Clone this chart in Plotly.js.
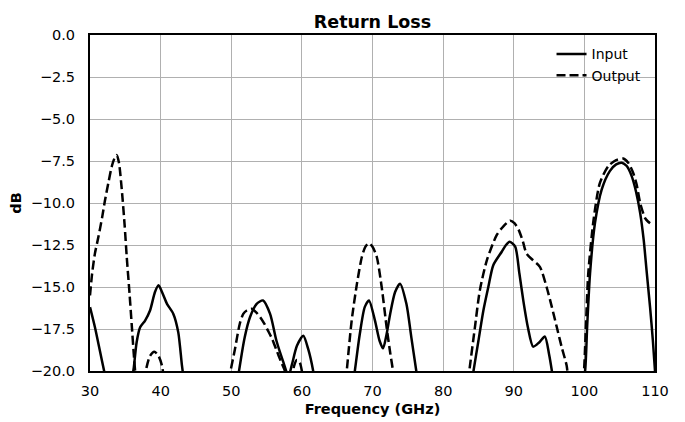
<!DOCTYPE html>
<html>
<head>
<meta charset="utf-8">
<script src="https://cdn.plot.ly/plotly-3.0.1.min.js"></script>
<style>
  html, body { margin: 0; padding: 0; background: #fff; }
  #chart { width: 685px; height: 422px; }
</style>
</head>
<body>
<div id="chart"></div>
<script>
// Input return loss (dB); null separates segments that dip below the -20 dB axis floor
const freqIn = [
  30, 30.7, 31.4, 32.0, 32.3, null,
  35.9, 36.2, 36.6, 37.1, 37.8, 38.5, 39.2, 39.7, 40.3, 40.9, 41.8, 42.5, 43.0, 43.3, null,
  50.9, 51.1, 51.9, 52.65, 53.6, 54.5, 55.5, 56.4, 57.4, 58.1, 58.6, 59.3, 60.2, 60.9, 61.6, 61.8, null,
  67.3, 67.5, 68.2, 68.9, 69.5, 70.35, 71.0, 71.5, 72.0, 72.5, 73.2, 73.9, 74.8, 75.5, 76.2, 76.4, null,
  84.1, 84.3, 85.0, 85.7, 86.4, 87.1, 88.3, 88.9, 89.4, 90.2, 90.8, 91.35, 92.0, 92.75, 93.6, 94.4, 95.0, 95.4, 95.6, null,
  99.8, 100.1, 100.4, 100.8, 101.5, 102.45, 103.6, 104.5, 105.3, 106.0, 106.7, 107.3, 107.9, 108.4, 108.8, 109.3, 109.7, 110
];
const lossIn = [
  -16.2, -17.4, -18.8, -20.0, -20.6, null,
  -20.6, -19.8, -18.3, -17.4, -17.0, -16.4, -15.3, -14.9, -15.4, -16.0, -16.6, -17.7, -19.6, -20.6, null,
  -20.6, -20.0, -18.0, -16.8, -16.0, -15.8, -16.6, -18.2, -19.5, -20.3, -19.6, -18.5, -17.9, -18.7, -20.0, -20.6, null,
  -20.6, -20.0, -17.8, -16.2, -15.8, -17.0, -18.2, -18.65, -17.8, -16.6, -15.3, -14.8, -16.0, -18.0, -20.0, -20.6, null,
  -20.6, -20.0, -18.2, -16.4, -15.0, -13.7, -12.9, -12.5, -12.3, -12.6, -14.2, -15.8, -17.4, -18.55, -18.3, -17.95, -19.0, -20.0, -20.6, null,
  -20.6, -20.0, -17.3, -14.2, -11.2, -9.2, -8.1, -7.7, -7.6, -7.8, -8.4, -9.3, -10.6, -12.2, -14.0, -16.2, -18.2, -20.0
];

// Output return loss (dB)
const freqOut = [
  30, 30.3, 30.7, 31.2, 31.7, 32.1, 32.6, 33.1, 33.5, 33.8, 34.1, 34.5, 34.9, 35.2, 35.6, 35.9, 36.2, 36.5, null,
  37.7, 38.0, 38.5, 39.1, 39.7, 40.2, 40.5, null,
  49.7, 49.9, 50.5, 51.2, 51.7, 52.2, 52.9, 53.5, 54.1, 54.7, 55.2, 55.8, 56.4, 57.0, 57.6, 57.8, null,
  58.6, 58.9, 59.3, 59.7, 60.0, 60.2, null,
  66.2, 66.35, 67.05, 67.8, 68.5, 69.0, 69.5, 70.0, 70.6, 71.3, 72.0, 72.5, 72.9, 73.0, null,
  83.5, 83.7, 84.5, 85.2, 86.2, 87.6, 88.5, 89.5, 90.1, 90.7, 91.3, 91.8, 92.7, 93.7, 94.65, 95.4, 96.1, 96.8, 97.5, 97.7, null,
  99.8, 99.95, 100.25, 100.55, 101.3, 102.2, 103.4, 104.5, 105.5, 106.2, 106.9, 107.4, 107.9, 108.6, 109.0, 109.3
];
const lossOut = [
  -15.5, -14.2, -13.0, -12.0, -10.9, -9.9, -8.8, -7.8, -7.3, -7.15, -7.6, -9.2, -11.3, -13.2, -15.4, -17.2, -19.0, -20.6, null,
  -20.6, -19.8, -19.1, -18.85, -19.1, -19.7, -20.6, null,
  -20.6, -20.0, -18.75, -17.2, -16.6, -16.4, -16.3, -16.5, -16.8, -17.2, -17.6, -18.1, -18.75, -19.4, -20.0, -20.6, null,
  -20.6, -19.7, -19.35, -19.5, -20.0, -20.6, null,
  -20.6, -20.0, -17.0, -14.8, -13.2, -12.6, -12.4, -12.6, -13.2, -15.0, -17.4, -18.9, -20.0, -20.6, null,
  -20.6, -20.0, -17.4, -15.2, -13.4, -11.9, -11.4, -11.05, -11.2, -11.6, -12.3, -13.0, -13.4, -13.8, -15.0, -16.2, -17.4, -18.6, -19.7, -20.6, null,
  -20.6, -20.0, -17.0, -14.2, -11.0, -8.8, -7.8, -7.45, -7.35, -7.6, -8.2, -8.9, -10.0, -10.9, -11.1, -11.2
];

const xTicks = [30, 40, 50, 60, 70, 80, 90, 100, 110];
const yTicks = [0, -2.5, -5, -7.5, -10, -12.5, -15, -17.5, -20];
const yTickText = ['0.0', '\u22122.5', '\u22125.0', '\u22127.5', '\u221210.0', '\u221212.5', '\u221215.0', '\u221217.5', '\u221220.0'];

const FONT = 'DejaVu Sans, sans-serif';

const traces = [
  { x: freqIn, y: lossIn, name: 'Input', type: 'scatter', mode: 'lines',
    connectgaps: false, line: { color: '#000', width: 2.5, dash: 'solid', shape: 'spline', smoothing: 0.7 } },
  { x: freqOut, y: lossOut, name: 'Output', type: 'scatter', mode: 'lines',
    connectgaps: false, line: { color: '#000', width: 2.5, dash: '9px,4px', shape: 'spline', smoothing: 0.7 } }
];

const layout = {
  width: 685, height: 422,
  margin: { l: 90, r: 30, t: 35, b: 51 },
  paper_bgcolor: '#fff', plot_bgcolor: '#fff',
  font: { family: FONT, size: 14.5, color: '#000' },
  title: { text: '<b>Return Loss</b>', font: { family: FONT, size: 17.5, color: '#000' },
           x: 0.5, xref: 'paper', xanchor: 'center', y: 1, yref: 'paper', yanchor: 'bottom', pad: { b: 7 } },
  showlegend: true,
  legend: { x: 0.985, y: 0.99, xanchor: 'right', yanchor: 'top', bgcolor: 'rgba(0,0,0,0)',
            borderwidth: 0, font: { family: FONT, size: 14, color: '#000' }, tracegroupgap: 0 },
  xaxis: {
    range: [30, 110], tickvals: xTicks, ticktext: xTicks.map(String),
    showgrid: true, gridcolor: '#b0b0b0', gridwidth: 1, zeroline: false,
    showline: true, linecolor: '#000', linewidth: 2, mirror: true,
    ticks: 'outside', ticklen: 6, tickwidth: 1, tickcolor: 'rgba(0,0,0,0)',
    tickfont: { family: FONT, size: 14.5, color: '#000' },
    title: { text: '<b>Frequency (GHz)</b>', font: { family: FONT, size: 14.5, color: '#000' }, standoff: 5 }
  },
  yaxis: {
    range: [-20, 0], tickvals: yTicks, ticktext: yTickText,
    showgrid: true, gridcolor: '#b0b0b0', gridwidth: 1, zeroline: false,
    showline: true, linecolor: '#000', linewidth: 2, mirror: true,
    ticks: 'outside', ticklen: 10, tickwidth: 1, tickcolor: 'rgba(0,0,0,0)',
    tickfont: { family: FONT, size: 14.5, color: '#000' },
    title: { text: '<b>dB</b>', font: { family: FONT, size: 14.5, color: '#000' }, standoff: 6 }
  }
};

Plotly.newPlot('chart', traces, layout, { displayModeBar: false, staticPlot: true });
</script>
</body>
</html>
